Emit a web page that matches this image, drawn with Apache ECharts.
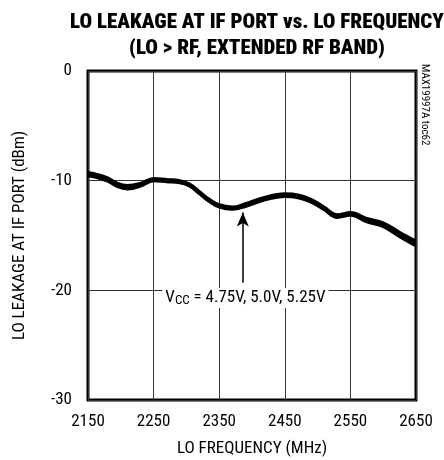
<!DOCTYPE html>
<html>
<head>
<meta charset="utf-8">
<script src="https://cdn.jsdelivr.net/npm/echarts@6/dist/echarts.min.js"></script>
<style>
  html, body { margin: 0; padding: 0; background: #fff; }
  #chart { width: 444px; height: 460px; }
</style>
</head>
<body>
<div id="chart"></div>
<script>
const FONT = '"Roboto Condensed", Roboto, sans-serif';

const freqMHz = [2150, 2165, 2180, 2195, 2210, 2230, 2250, 2270, 2290, 2305, 2320, 2335, 2350, 2370, 2390, 2420, 2450, 2470, 2490, 2510, 2530, 2550, 2575, 2600, 2625, 2650];
const vcc475 = [-9.25, -9.45, -9.75, -10.25, -10.45, -10.25, -9.8, -9.9, -10.0, -10.3, -11.0, -11.7, -12.2, -12.4, -12.1, -11.5, -11.2, -11.3, -11.7, -12.4, -13.1, -12.9, -13.45, -13.85, -14.7, -15.5];
const vcc500 = [-9.4, -9.6, -9.9, -10.4, -10.6, -10.4, -9.9, -10.0, -10.1, -10.4, -11.1, -11.8, -12.3, -12.5, -12.2, -11.6, -11.3, -11.4, -11.8, -12.5, -13.2, -13.0, -13.6, -14.0, -14.9, -15.7];
const vcc525 = [-9.55, -9.75, -10.05, -10.55, -10.75, -10.5, -10.0, -10.1, -10.2, -10.5, -11.2, -11.9, -12.4, -12.6, -12.35, -11.75, -11.45, -11.55, -11.95, -12.65, -13.35, -13.15, -13.75, -14.2, -15.1, -15.95];
const seriesNames = ['4.75V', '5.0V', '5.25V'];
const xTicks = [2150, 2250, 2350, 2450, 2550, 2650];
const yTicks = [0, -10, -20, -30];

const chart = echarts.init(document.getElementById('chart'), null, { renderer: 'canvas' });

function pairs(vals) {
    return freqMHz.map((f, i) => [f, vals[i]]);
}

const lineSeries = [vcc475, vcc500, vcc525].map((vals, i) => ({
    name: seriesNames[i],
    type: 'line',
    smooth: 0.4,
    symbol: 'none',
    lineStyle: { color: '#000', width: 3 },
    data: pairs(vals),
    z: 3
}));

// arrow + VCC label, hung on the middle curve
lineSeries[1].markLine = {
    silent: true,
    symbol: ['none', 'arrow'],
    symbolSize: [9, 14],
    lineStyle: { color: '#000', width: 1.5, type: 'solid' },
    label: { show: false },
    data: [[{ coord: [2386, -19.3] }, { coord: [2386, -12.9] }]]
};
lineSeries[1].markPoint = {
    silent: true,
    symbol: 'rect',
    symbolSize: 1,
    itemStyle: { color: 'rgba(0,0,0,0)' },
    label: {
        show: true,
        position: 'inside',
        formatter: '{v|V}{s|CC}{v| = 4.75V, 5.0V, 5.25V}',
        backgroundColor: '#fff',
        padding: [1, 3],
        rich: {
            v: { fontFamily: FONT, fontSize: 17, color: '#000' },
            s: { fontFamily: FONT, fontSize: 13, color: '#000', verticalAlign: 'bottom', padding: [5, 0, 0, 0] }
        }
    },
    data: [{ coord: [2390, -20.7] }]
};

const option = {
    backgroundColor: '#fff',
    animation: false,
    title: {
        text: 'LO LEAKAGE AT IF PORT vs. LO FREQUENCY\n(LO > RF, EXTENDED RF BAND)',
        left: 252,
        top: 5,
        textAlign: 'center',
        textStyle: { fontFamily: FONT, fontWeight: 900, fontSize: 21, lineHeight: 26, color: '#000' }
    },
    graphic: [{
        type: 'text',
        left: 419,
        top: 64,
        rotation: -Math.PI / 2,
        style: { text: 'MAX19997A toc62', fontFamily: FONT, fontSize: 11, fill: '#000' }
    }],
    grid: {
        left: 88,
        right: 28,
        top: 71,
        bottom: 60,
        outerBoundsMode: 'none',
        containLabel: false,
        show: true,
        borderColor: '#000',
        borderWidth: 3,
        backgroundColor: 'transparent'
    },
    xAxis: {
        type: 'value',
        min: 2150,
        max: 2650,
        interval: 100,
        name: 'LO FREQUENCY (MHz)',
        nameLocation: 'middle',
        nameGap: 40,
        nameTextStyle: { fontFamily: FONT, fontSize: 17, color: '#000' },
        axisLine: { show: false },
        axisTick: { show: false },
        axisLabel: {
            fontFamily: FONT, fontSize: 17, color: '#000', margin: 13,
            formatter: v => xTicks.includes(v) ? String(v) : ''
        },
        splitLine: { show: true, lineStyle: { color: '#333', width: 1 } }
    },
    yAxis: {
        type: 'value',
        min: -30,
        max: 0,
        interval: 10,
        name: 'LO LEAKAGE AT IF PORT (dBm)',
        nameLocation: 'middle',
        nameGap: 60,
        nameRotate: 90,
        nameTextStyle: { fontFamily: FONT, fontSize: 17, color: '#000' },
        axisLine: { show: false },
        axisTick: { show: false },
        axisLabel: {
            fontFamily: FONT, fontSize: 17, color: '#000', margin: 16,
            formatter: v => yTicks.includes(v) ? String(v) : ''
        },
        splitLine: { show: true, lineStyle: { color: '#333', width: 1 } }
    },
    series: lineSeries
};

chart.setOption(option);
</script>
</body>
</html>
